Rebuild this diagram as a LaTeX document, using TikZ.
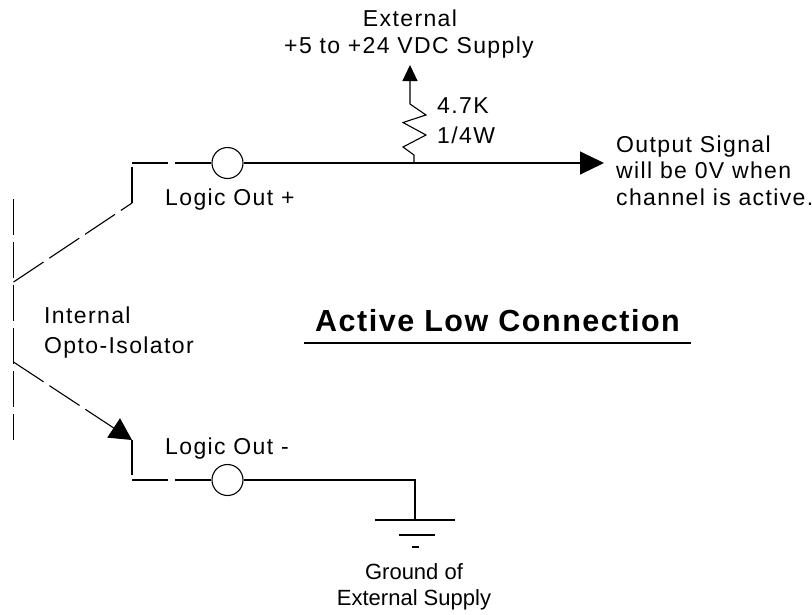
\documentclass[tikz,border=0pt]{standalone}
\usepackage{fontspec}
\setmainfont{Liberation Sans}
\newfontfamily\spaced[LetterSpace=6]{Liberation Sans}
\newfontfamily\spacedbold[LetterSpace=5]{Liberation Sans Bold}
\usetikzlibrary{arrows.meta}
\tikzset{
  wire/.style={draw=black,line width=1.1pt},
  dashwire/.style={wire,dash pattern=on 36pt off 7pt},
  term/.style={circle,draw=black,line width=1.1pt,minimum size=31pt,inner sep=0pt},
  lbl/.style={inner sep=0pt,anchor=base west,font=\fontsize{23}{23}\spaced},
  toplbl/.style={inner sep=0pt,anchor=base,font=\fontsize{23}{23}\spaced},
  plainlbl/.style={inner sep=0pt,anchor=base,font=\fontsize{22}{22}\selectfont},
  arrowbig/.style={-{Triangle[length=24pt,width=23pt]}},
  arrowdiag/.style={-{Triangle[length=22pt,width=23pt]}},
  arrowup/.style={-{Triangle[length=16pt,width=15pt]}},
}
\begin{document}
\begin{tikzpicture}[x=1pt,y=-1pt]
\useasboundingbox (0,0) rectangle (812,614);
% terminals
\node[term] (t1) at (227.5,163) {};
\node[term] (t2) at (227.5,480) {};
% coordinates
\coordinate (barT) at (13.5,199);
\coordinate (barB) at (13.5,440);
\coordinate (e1) at (13.5,282);
\coordinate (e2) at (13.5,362);
\coordinate (c1) at (132,203);
\coordinate (c1t) at (132,167);
\coordinate (h1) at (132,163);
\coordinate (c2) at (132,440);
\coordinate (c2b) at (132,475);
\coordinate (h2) at (132,480);
\coordinate (jr) at (414,163);
\coordinate (out) at (604,163);
\coordinate (sup) at (410,65);
\coordinate (g0) at (415,480);
\coordinate (g1) at (415,520);
\coordinate (g1l) at (375,520);
\coordinate (g1r) at (455,520);
\coordinate (g2l) at (399,535);
\coordinate (g2r) at (435,535);
\coordinate (g3l) at (412,547);
\coordinate (g3r) at (419,547);
\coordinate (ul) at (304,343);
\coordinate (ur) at (691,343);
% isolator
\draw[dashwire] (barT) -- (barB);
\draw[dashwire] (e1) -- (c1);
\draw[wire] (c1) -- (c1t);
\draw[wire,dash pattern=on 36pt off 7pt on 60pt off 0pt] (h1) -- (t1.west);
\draw[dashwire,arrowdiag] (e2) -- (c2);
\draw[wire] (c2) -- (c2b);
\draw[wire,dash pattern=on 36pt off 7pt on 60pt off 0pt] (h2) -- (t2.west);
% output
\draw[wire,arrowbig] (t1.east) -- (out);
% resistor
\draw[wire,arrowup,line join=miter] (jr) -- (414,155) -- (403,147) -- (426,135) -- (403,122.5) -- (426,115) -- (410,104) -- (sup);
% ground
\draw[wire] (t2.east) -- (g0) -- (g1);
\draw[wire] (g1l) -- (g1r);
\draw[wire] (g2l) -- (g2r);
\draw[wire] (g3l) -- (g3r);
% title underline
\draw[black,line width=2.7pt] (ul) -- (ur);
% labels
\node[toplbl] (ext) at (410,26) {External};
\node[toplbl] (sup5) at (409,53) {+5 to +24 VDC Supply};
\node[lbl] (r1) at (437,113) {4.7K};
\node[lbl] (r2) at (437,143) {1/4W};
\node[lbl] (o1) at (616,152) {Output Signal};
\node[lbl] (o2) at (616,178) {will be 0V when};
\node[lbl] (o3) at (616,205) {channel is active.};
\node[lbl] (lp) at (165,205) {Logic Out +};
\node[lbl] (lm) at (165,454) {Logic Out -};
\node[lbl] (i1) at (44,323) {Internal};
\node[lbl] (i2) at (44,353) {Opto-Isolator};
\node[inner sep=0pt,anchor=base west,font=\fontsize{30.5}{30.5}\spacedbold] (title) at (315,331) {Active Low Connection};
\node[plainlbl] (g1t) at (414,579) {Ground of};
\node[plainlbl] (g2t) at (414,605) {External Supply};
\end{tikzpicture}
\end{document}
